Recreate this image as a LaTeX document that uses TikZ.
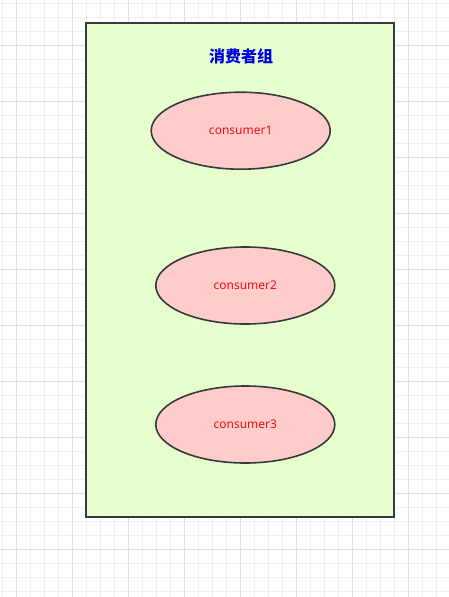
\documentclass[tikz,border=0pt]{standalone}
\usepackage{fontspec}
\usepackage{tikz}
\usetikzlibrary{shapes.geometric}
\newfontfamily\cjkfont{Noto Sans CJK SC}
\newfontfamily\labelfont{Noto Sans}
\definecolor{gridminor}{HTML}{F0F0F0}
\definecolor{gridmajor}{HTML}{E0E0E0}
\definecolor{groupfill}{HTML}{E6FFCC}
\definecolor{consfill}{HTML}{FFCCCC}
\definecolor{edge}{HTML}{36393D}
\definecolor{titleblue}{HTML}{0000DD}
\definecolor{consred}{HTML}{EE1111}

\begin{document}
\begin{tikzpicture}[x=1pt,y=-1pt,
  group/.style={draw=edge, fill=groupfill, line width=1.6pt, minimum width=308pt, minimum height=494pt, inner sep=0pt},
  consumer/.style={ellipse, draw=edge, fill=consfill, line width=1.6pt, minimum width=179pt, minimum height=77pt, inner sep=0pt, text=consred, font=\labelfont\fontsize{12}{14}\selectfont}]
  \useasboundingbox (0,0) rectangle (449,597);
  \fill[white] (0,0) rectangle (449,597);
  % background grid
  \foreach \x in {2.7,16.7,...,449} \draw[gridminor, line width=0.8pt] (\x,0) -- (\x,597);
  \foreach \y in {3.3,17.3,...,597} \draw[gridminor, line width=0.8pt] (0,\y) -- (449,\y);
  \foreach \x in {16.7,72.7,...,449} \draw[gridmajor, line width=0.9pt] (\x,0) -- (\x,597);
  \foreach \y in {45.3,101.3,...,597} \draw[gridmajor, line width=0.9pt] (0,\y) -- (449,\y);

  \node[group] (grp) at (240,270) {};
  \node[text=titleblue, font=\cjkfont\bfseries\fontsize{16}{18}\selectfont] (title) at (241,56) {消费者组};
  \node[consumer] (c1) at (240.7,130.7) {consumer1};
  \node[consumer] (c2) at (245.3,285.5) {consumer2};
  \node[consumer] (c3) at (245.3,424.5) {consumer3};
\end{tikzpicture}
\end{document}
